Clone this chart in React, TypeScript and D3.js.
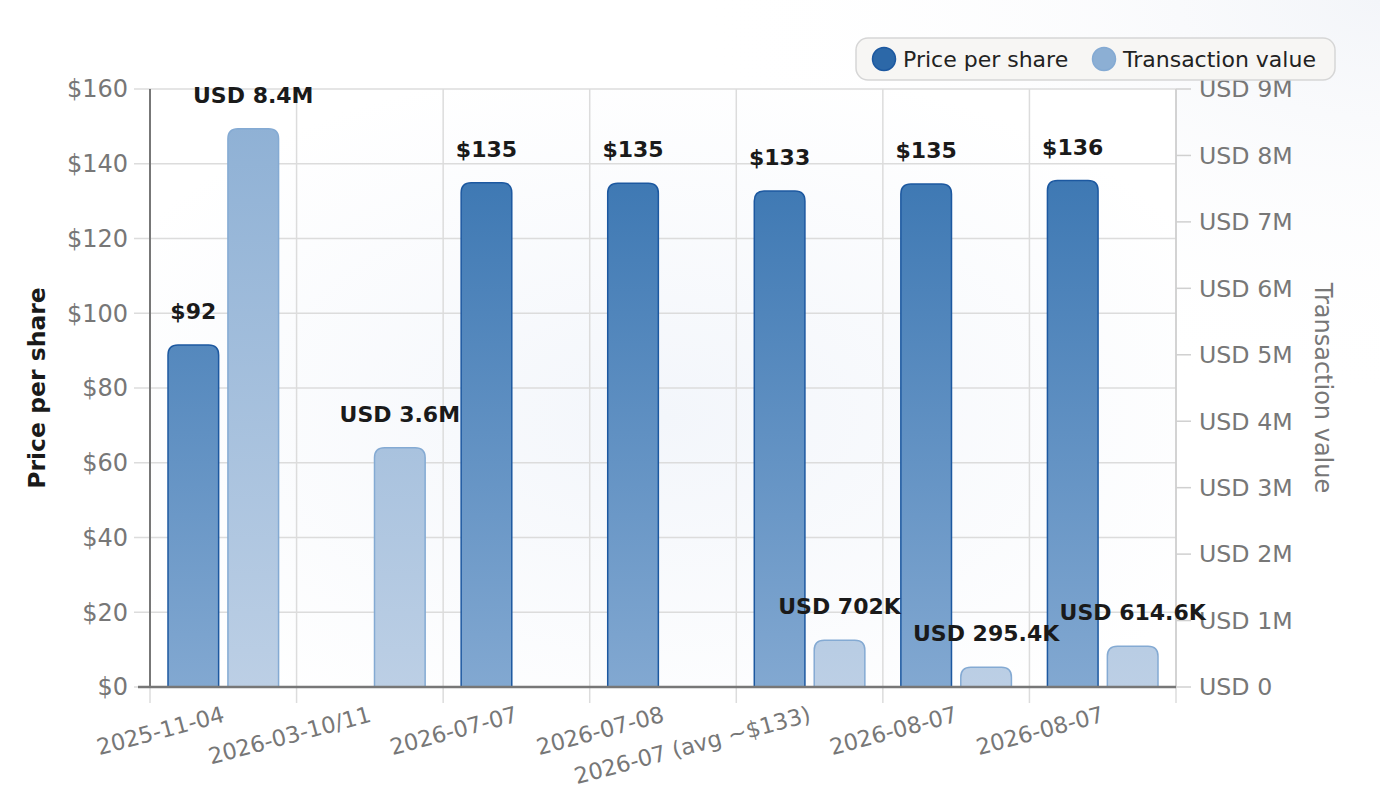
import React from "react";
import * as d3 from "d3";

const categories = [
  "2025-11-04",
  "2026-03-10/11",
  "2026-07-07",
  "2026-07-08",
  "2026-07 (avg ~$133)",
  "2026-08-07",
  "2026-08-07",
];
const pricePerShare: (number | null)[] = [91.5, null, 134.9, 134.8, 132.7, 134.6, 135.5];
const transactionValue: (number | null)[] = [8400000, 3600000, null, null, 702000, 295400, 614600];
const priceTicks = [0, 20, 40, 60, 80, 100, 120, 140, 160];
const valueTicks = [0, 1, 2, 3, 4, 5, 6, 7, 8, 9].map((d) => d * 1e6);

const W = 1380;
const H = 808;
const margin = { top: 89, right: 204, bottom: 120, left: 150 };
const FONT = "DejaVu Sans, sans-serif";

const fmtValue = (v: number) =>
  v >= 1e6 ? `USD ${+(v / 1e6).toFixed(1)}M` : `USD ${+(v / 1e3).toFixed(1)}K`;

// bar with only its top corners rounded
function topRounded(x: number, y: number, w: number, h: number, r: number) {
  const rr = Math.min(r, h, w / 2);
  return `M${x},${y + h}V${y + rr}Q${x},${y} ${x + rr},${y}H${x + w - rr}Q${x + w},${y} ${x + w},${y + rr}V${y + h}Z`;
}

export default function App() {
  const x0 = margin.left;
  const x1 = W - margin.right;
  const yTop = margin.top;
  const yBot = H - margin.bottom - 1;

  const xBand = d3.scaleBand<number>().domain(d3.range(categories.length)).range([x0, x1]);
  const inner = d3.scaleBand<string>().domain(["price", "value"]).range([18, xBand.bandwidth() - 18]).paddingInner(0.155);
  const yLeft = d3.scaleLinear().domain([0, 160]).range([yBot, yTop]);
  const yRight = d3.scaleLinear().domain([0, 9e6]).range([yBot, yTop]);

  const bw = inner.bandwidth();
  const tickColor = "#777";

  return (
    <svg
      width={W}
      height={H}
      style={{ position: "absolute", left: 0, top: 0, display: "block", fontFamily: FONT }}
    >
      <defs>
        <radialGradient id="bg" cx="0.5" cy="0.55" r="0.6">
          <stop offset="0" stopColor="#f3f6fb" />
          <stop offset="1" stopColor="#ffffff" />
        </radialGradient>
        <radialGradient id="bgCorner" cx="1" cy="0" r="0.5">
          <stop offset="0" stopColor="#f3f5f9" />
          <stop offset="1" stopColor="#ffffff" stopOpacity="0" />
        </radialGradient>
        <linearGradient id="gPrice" gradientUnits="userSpaceOnUse" x1="0" y1={yTop} x2="0" y2={yBot}>
          <stop offset="0" stopColor="#3270ae" />
          <stop offset="1" stopColor="#82a8d1" />
        </linearGradient>
        <linearGradient id="gValue" gradientUnits="userSpaceOnUse" x1="0" y1={yTop} x2="0" y2={yBot}>
          <stop offset="0" stopColor="#8cafd4" />
          <stop offset="1" stopColor="#bccfe5" />
        </linearGradient>
      </defs>

      <rect x={0} y={0} width={W} height={H} fill="#fff" />
      <rect x={0} y={0} width={W} height={H} fill="url(#bgCorner)" />
      <rect x={x0} y={yTop} width={x1 - x0} height={yBot - yTop} fill="url(#bg)" />

      {/* horizontal grid + left ticks */}
      {priceTicks.map((t) => (
        <g key={"h" + t}>
          <line x1={x0 - 16} x2={x1} y1={yLeft(t)} y2={yLeft(t)} stroke="#dcdcdc" strokeWidth={1.5} />
          <text x={x0 - 22} y={yLeft(t)} dy="0.35em" textAnchor="end" fontSize={24} fill={tickColor}>
            ${t}
          </text>
        </g>
      ))}

      {/* vertical grid */}
      {d3.range(categories.length + 1).map((i) => {
        const x = x0 + i * xBand.step();
        return <line key={"v" + i} x1={x} x2={x} y1={yTop} y2={yBot + 16} stroke="#dcdcdc" strokeWidth={1.5} />;
      })}

      {/* right axis */}
      <line x1={x1} x2={x1} y1={yTop} y2={yBot} stroke="#cccccc" strokeWidth={1.5} />
      {valueTicks.map((t) => (
        <g key={"r" + t}>
          <line x1={x1} x2={x1 + 15} y1={yRight(t)} y2={yRight(t)} stroke="#d0d0d0" strokeWidth={1.5} />
          <text x={x1 + 23} y={yRight(t)} dy="0.35em" fontSize={23.7} fill={tickColor}>
            {t === 0 ? "USD 0" : `USD ${t / 1e6}M`}
          </text>
        </g>
      ))}

      {/* bars */}
      {categories.map((_, i) => {
        const bx = xBand(i)!;
        const p = pricePerShare[i];
        const v = transactionValue[i];
        return (
          <g key={"b" + i}>
            {p != null && (
              <path
                d={topRounded(bx + inner("price")!, yLeft(p), bw, yBot - yLeft(p), 10)}
                fill="url(#gPrice)"
                stroke="#1c58a0"
                strokeWidth={1.5}
              />
            )}
            {v != null && (
              <path
                d={topRounded(bx + inner("value")!, yRight(v), bw, yBot - yRight(v), 10)}
                fill="url(#gValue)"
                stroke="#84aad3"
                strokeWidth={1.5}
              />
            )}
          </g>
        );
      })}

      {/* axes lines */}
      <line x1={x0} x2={x0} y1={yTop} y2={yBot} stroke="#777" strokeWidth={2} />
      <line x1={x0 - 12} x2={x1} y1={yBot} y2={yBot} stroke="#777" strokeWidth={2.5} />

      {/* value labels */}
      {categories.map((_, i) => {
        const bx = xBand(i)!;
        const p = pricePerShare[i];
        const v = transactionValue[i];
        return (
          <g key={"l" + i} fontSize={22} fontWeight="bold" fill="#1a1a1a" textAnchor="middle">
            {p != null && (
              <text x={bx + inner("price")! + bw / 2} y={yLeft(p) - 26}>
                ${Math.round(p)}
              </text>
            )}
            {v != null && (
              <text x={bx + inner("value")! + bw / 2} y={yRight(v) - 26}>
                {fmtValue(v)}
              </text>
            )}
          </g>
        );
      })}

      {/* x labels */}
      {categories.map((c, i) => {
        const cx = xBand(i)! + xBand.bandwidth() / 2;
        return (
          <text
            key={"x" + i}
            transform={`translate(${cx - 2},${yBot + 18}) rotate(-15)`}
            textAnchor="end"
            dy="0.75em"
            fontSize={22.5}
            fill={tickColor}
          >
            {c}
          </text>
        );
      })}

      {/* axis titles */}
      <text
        transform={`translate(45,${(yTop + yBot) / 2}) rotate(-90)`}
        textAnchor="middle"
        fontSize={23.5}
        fontWeight="bold"
        fill="#1a1a1a"
      >
        Price per share
      </text>
      <text
        transform={`translate(1315,${(yTop + yBot) / 2}) rotate(90)`}
        textAnchor="middle"
        fontSize={24}
        fill={tickColor}
      >
        Transaction value
      </text>

      {/* legend */}
      <g>
        <rect x={856} y={38} width={479} height={42} rx={12} fill="#f7f6f4" stroke="#d6d6d6" strokeWidth={1.5} />
        <circle cx={884} cy={59} r={11.5} fill="#2c68a8" stroke="#1c58a0" strokeWidth={1.5} />
        <text x={903} y={59} dy="0.35em" fontSize={22} fill="#222">
          Price per share
        </text>
        <circle cx={1104} cy={59} r={11.5} fill="#8cafd4" stroke="#84aad3" strokeWidth={1.5} />
        <text x={1123} y={59} dy="0.35em" fontSize={22} fill="#222">
          Transaction value
        </text>
      </g>
    </svg>
  );
}
